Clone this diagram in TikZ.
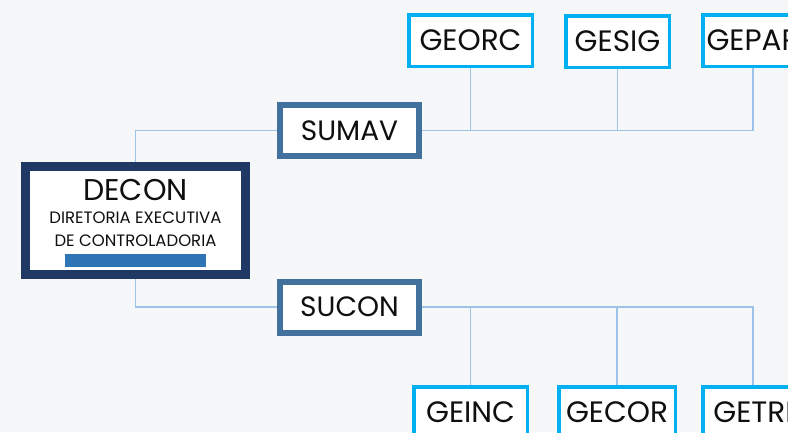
\documentclass[tikz,border=0pt]{standalone}
\usepackage{fontspec}
\setmainfont{Poppins}
\usetikzlibrary{backgrounds}
\definecolor{navy}{RGB}{31,56,100}
\definecolor{steel}{RGB}{65,113,156}
\definecolor{cyanbox}{RGB}{0,176,240}
\definecolor{linkblue}{RGB}{157,195,230}
\definecolor{barblue}{RGB}{46,117,182}
\definecolor{paper}{RGB}{246,247,248}
\definecolor{ink}{RGB}{15,15,15}
\begin{document}
\begin{tikzpicture}[x=1pt, y=-1pt,
    dir/.style={draw=navy, line width=9pt, fill=white,
      minimum width=220pt, minimum height=108pt},
    sub/.style={draw=steel, line width=6pt, fill=white, text=ink,
      minimum width=139pt, minimum height=51pt,
      font=\fontsize{28}{30}\selectfont},
    ger/.style={draw=cyanbox, line width=3.5pt, fill=white, text=ink,
      minimum height=51.5pt, inner xsep=2pt,
      font=\fontsize{29.5}{30}\selectfont},
    link/.style={draw=linkblue, line width=1.2pt}]
    \useasboundingbox (0,0) rectangle (788,432);
    \clip (0,0) rectangle (788,432);

    % directorate
    \node [dir] (decon) at (135.5,220.5) {};
    \node [text=ink, font=\fontsize{30}{32}\selectfont] (title) at
      (135.5,190) {DECON};
    \node [text=ink, align=center, font=\fontsize{16.5}{23}\selectfont]
      (name) at (135.5,229.5) {DIRETORIA EXECUTIVA\\DE CONTROLADORIA};
    \fill [barblue] (65,254) rectangle (206,267);

    % superintendencies
    \node [sub] (sumav) at (349.5,130.5) {SUMAV};
    \node [sub] (sucon) at (349.5,307) {SUCON};

    % managements
    \begin{scope}[every node/.style={ger}]
      \node [minimum width=123.5pt] (georc) at (470.5,40.5) {GEORC};
      \node [minimum width=103.5pt] (gesig) at (617.5,41.5) {GESIG};
      \node [minimum width=100.5pt] (gepar) at (753,40.5) {GEPAR};
      \node [minimum width=113.5pt] (geinc) at (470.5,412.5) {GEINC};
      \node [minimum width=116.5pt] (gecor) at (617,412.5) {GECOR};
      \node [minimum width=100.5pt] (getri) at (753,412.5) {GETRI};
    \end{scope}

    \begin{scope}[on background layer]
      \fill [paper] (0,0) rectangle (788,432);
      \draw [link] (decon.north) |- (sumav.west);
      \draw [link] (decon.south) |- (sucon.west);
      \draw [link] (sumav.east) -| (gepar.south);
      \draw [link] (georc.south) -- (georc.south |- sumav.east);
      \draw [link] (gesig.south) -- (gesig.south |- sumav.east);
      \draw [link] (sucon.east) -| (getri.north);
      \draw [link] (geinc.north) -- (geinc.north |- sucon.east);
      \draw [link] (gecor.north) -- (gecor.north |- sucon.east);
    \end{scope}
  \end{tikzpicture}
\end{document}
